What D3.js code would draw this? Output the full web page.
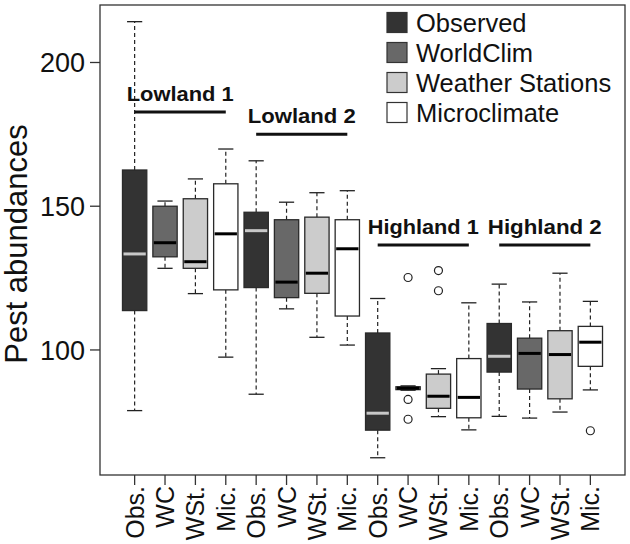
<!DOCTYPE html>
<html><head><meta charset="utf-8">
<script src="https://cdn.jsdelivr.net/npm/d3@7"></script>
<style>body{margin:0;background:#fff}svg{display:block;font-family:"Liberation Sans",Arial,sans-serif}</style>
</head><body><svg id="c" width="630" height="544"></svg>
<script>
const groups = ["Lowland 1", "Lowland 2", "Highland 1", "Highland 2"];
const sources = ["Observed", "WorldClim", "Weather Stations", "Microclimate"];
const tickLabels = ["Obs.", "WC", "WSt.", "Mic."];
const yTicks = [100, 150, 200];
// box statistics, 16 boxes (group x source)
const lowerWhisker = [78.9,128.4,119.6,97.5, 84.6,114.3,104.4,101.7, 62.5,86.0,76.8,72.2, 76.9,76.3,78.4,86.1];
const q1           = [113.7,132.4,128.4,120.9, 121.7,118.2,119.7,111.8, 72.1,86.2,79.7,76.4, 92.3,86.4,83.0,94.3];
const median       = [133.4,137.3,130.7,140.4, 141.5,123.6,126.7,135.2, 78.0,86.7,83.9,83.5, 97.8,98.8,98.4,102.7];
const q3           = [162.6,150.0,152.6,157.8, 147.9,145.3,146.2,145.3, 105.9,87.2,91.6,97.0, 109.2,104.1,106.7,108.2];
const upperWhisker = [214.2,151.8,159.5,169.9, 165.8,151.4,154.7,155.4, 117.9,87.5,93.5,116.4, 122.9,116.7,126.7,116.9];
const outlierBox   = [10, 10, 10, 11, 11, 16];
const outlierValue = [125.2, 82.8, 75.9, 127.6, 120.6, 71.9];
const groupLineY   = [182.8, 175.0, 136.5, 136.5];

const fills = ["#333333", "#686868", "#cccccc", "#ffffff"];
const medianColors = ["#c8c8c8", "#000000", "#000000", "#000000"];

const svg = d3.select("#c");
const x = d3.scaleLinear().domain([-0.14, 17.14]).range([100, 625]);
const y = d3.scaleLinear().domain([56.5, 220.0]).range([475, 5]);
const bw = x(0.4) - x(0);
const cw = x(0.25) - x(0);

const boxes = d3.range(16).map(i => ({i, pos: i + 1, s: i % 4, g: Math.floor(i / 4)}));

const bg = svg.append("g");
// whiskers dashed
bg.selectAll("line.wu").data(boxes).join("line")
  .attr("x1", d => x(d.pos)).attr("x2", d => x(d.pos))
  .attr("y1", d => y(q3[d.i])).attr("y2", d => y(upperWhisker[d.i]))
  .attr("stroke", "#222").attr("stroke-width", 1.2).attr("stroke-dasharray", "4,3");
bg.selectAll("line.wl").data(boxes).join("line")
  .attr("x1", d => x(d.pos)).attr("x2", d => x(d.pos))
  .attr("y1", d => y(q1[d.i])).attr("y2", d => y(lowerWhisker[d.i]))
  .attr("stroke", "#222").attr("stroke-width", 1.2).attr("stroke-dasharray", "4,3");
// caps
["u", "l"].forEach(k => {
  const arr = k === "u" ? upperWhisker : lowerWhisker;
  bg.selectAll("line.c" + k).data(boxes).join("line")
    .attr("x1", d => x(d.pos) - cw).attr("x2", d => x(d.pos) + cw)
    .attr("y1", d => y(arr[d.i])).attr("y2", d => y(arr[d.i]))
    .attr("stroke", "#222").attr("stroke-width", 1.3);
});
// boxes
bg.selectAll("rect.b").data(boxes).join("rect")
  .attr("x", d => x(d.pos) - bw).attr("width", 2 * bw)
  .attr("y", d => y(q3[d.i])).attr("height", d => y(q1[d.i]) - y(q3[d.i]))
  .attr("fill", d => fills[d.s]).attr("stroke", "#2a2a2a").attr("stroke-width", 1.3);
// medians
bg.selectAll("line.m").data(boxes).join("line")
  .attr("x1", d => x(d.pos) - bw + 1).attr("x2", d => x(d.pos) + bw - 1)
  .attr("y1", d => y(median[d.i])).attr("y2", d => y(median[d.i]))
  .attr("stroke", d => medianColors[d.s]).attr("stroke-width", 3);
// outliers
bg.selectAll("circle").data(outlierBox.map((b, k) => ({b, v: outlierValue[k]}))).join("circle")
  .attr("cx", d => x(d.b)).attr("cy", d => y(d.v)).attr("r", 4)
  .attr("fill", "none").attr("stroke", "#222").attr("stroke-width", 1.2);

// group labels
const glw = [107, 108, 111, 114];
groups.forEach((g, k) => {
  const x1 = x(k * 4 + 1), x2 = x(k * 4 + 4), yy = y(groupLineY[k]);
  svg.append("line").attr("x1", x1).attr("x2", x2).attr("y1", yy).attr("y2", yy)
    .attr("stroke", "#111").attr("stroke-width", 3);
  svg.append("text").attr("x", (x1 + x2) / 2).attr("y", yy - 11)
    .attr("text-anchor", "middle").attr("font-weight", "bold").attr("font-size", 20)
    .attr("textLength", glw[k]).attr("lengthAdjust", "spacingAndGlyphs")
    .attr("fill", "#111").text(g);
});

// frame
svg.append("rect").attr("x", 100).attr("y", 5).attr("width", 525).attr("height", 470)
  .attr("fill", "none").attr("stroke", "#333").attr("stroke-width", 1.3);

// y axis
const ya = svg.append("g");
yTicks.forEach(t => {
  ya.append("line").attr("x1", 90).attr("x2", 100).attr("y1", y(t)).attr("y2", y(t))
    .attr("stroke", "#333").attr("stroke-width", 1.3);
  ya.append("text").attr("x", 85).attr("y", y(t)).attr("dy", "0.36em")
    .attr("text-anchor", "end").attr("font-size", 27).attr("fill", "#111").text(t);
});
svg.append("text").attr("transform", "translate(27,244) rotate(-90)")
  .attr("text-anchor", "middle").attr("font-size", 31).attr("fill", "#111").text("Pest abundances");

// x axis
boxes.forEach(d => {
  svg.append("line").attr("x1", x(d.pos)).attr("x2", x(d.pos)).attr("y1", 475).attr("y2", 485)
    .attr("stroke", "#333").attr("stroke-width", 1.3);
  svg.append("text").attr("transform", `translate(${x(d.pos)},486) rotate(-90)`)
    .attr("dy", "0.36em").attr("text-anchor", "end").attr("font-size", 25).attr("fill", "#111")
    .text(tickLabels[d.s]);
});

// legend
const lg = svg.append("g");
sources.forEach((s, k) => {
  lg.append("rect").attr("x", 387).attr("y", 12.5 + k * 30).attr("width", 20).attr("height", 20)
    .attr("fill", fills[k]).attr("stroke", "#333").attr("stroke-width", 1.2);
  lg.append("text").attr("x", 416).attr("y", 22.5 + k * 30).attr("dy", "0.36em")
    .attr("font-size", 25.5).attr("fill", "#111").text(s);
});
</script></body></html>
